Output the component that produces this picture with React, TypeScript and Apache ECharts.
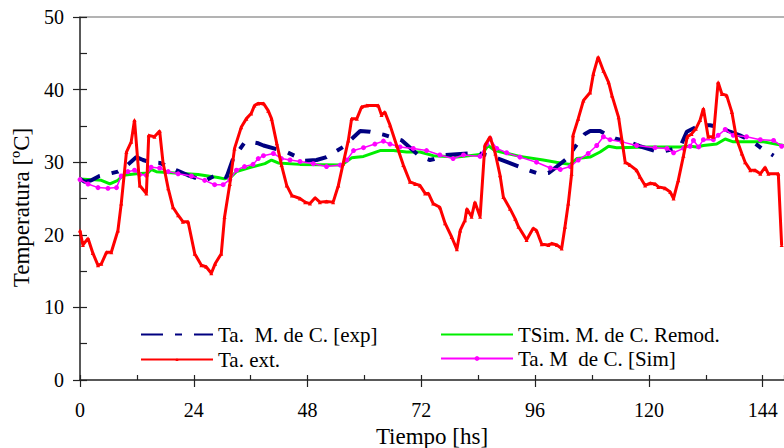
import React, { useEffect, useRef } from "react";
import * as echarts from "echarts";

const xTicks = [0, 24, 48, 72, 96, 120, 144];
const yTicks = [0, 10, 20, 30, 40, 50];

const expHours = [0, 1.0, 2.4, 4.1, 8.0, 9.1, 11.9, 13.3, 14.7, 16.8, 20.3, 22.8, 24.9, 26.3, 29.1, 30.9, 32.3, 34.7, 35.9, 37.6, 38.7, 43.6, 47.5, 49.9, 52.0, 55.5, 59.1, 61.2, 64.0, 67.9, 71.7, 73.8, 74.5, 77.0, 83.7, 85.8, 88.2, 92.5, 96.7, 98.8, 100.6, 102.7, 104.4, 106.5, 107.6, 109.7, 111.1, 113.2, 115.3, 118.1, 122.0, 124.5, 126.6, 128.0, 130.8, 132.9, 135.0, 137.1, 139.2, 142.0, 143.8, 146.3];
const expTemps = [27.7, 27.3, 27.5, 28.1, 28.7, 29.1, 30.7, 30.3, 30.0, 29.9, 28.9, 28.2, 27.7, 27.4, 28.4, 27.9, 30.5, 32.7, 32.8, 32.6, 32.3, 31.4, 30.2, 30.3, 30.7, 32.1, 34.3, 34.2, 33.8, 33.0, 30.8, 30.3, 30.4, 31.0, 31.3, 31.0, 30.5, 29.4, 28.4, 28.5, 29.4, 30.5, 32.1, 33.9, 34.3, 34.3, 33.8, 33.2, 32.9, 32.2, 31.4, 31.7, 32.1, 34.2, 35.1, 35.1, 34.8, 34.2, 33.7, 32.8, 31.9, 30.9];

const remodHours = [0, 2.4, 4.5, 6.3, 8.0, 9.1, 11.9, 14.3, 15.0, 16.1, 20.0, 24.9, 29.1, 30.5, 31.9, 33.0, 36.0, 39.0, 40.4, 41.8, 46.4, 55.2, 57.3, 59.8, 63.3, 66.1, 68.9, 71.7, 74.5, 79.5, 84.8, 86.1, 87.5, 92.8, 97.7, 101.3, 103.4, 104.8, 107.6, 109.7, 111.5, 113.2, 120.3, 126.6, 128.7, 130.1, 131.5, 134.3, 136.1, 137.8, 144.2, 148.4];
const remodTemps = [27.7, 27.6, 27.5, 27.0, 27.5, 28.2, 28.4, 28.5, 29.0, 28.7, 28.5, 28.3, 27.9, 27.7, 28.0, 28.7, 29.3, 29.8, 30.3, 29.9, 29.7, 29.6, 30.6, 30.8, 31.6, 31.6, 31.4, 31.4, 30.9, 30.7, 31.1, 32.3, 31.6, 30.8, 30.3, 29.9, 29.7, 30.5, 30.7, 31.4, 32.2, 32.0, 32.1, 32.1, 32.2, 32.1, 32.3, 32.5, 33.2, 32.8, 32.8, 32.3];

const extHours = [0, 0.6, 1.7, 2.7, 3.8, 4.5, 5.6, 6.6, 8.0, 8.7, 9.8, 10.8, 11.5, 12.6, 14.0, 14.5, 15.7, 16.8, 17.5, 18.6, 19.6, 20.7, 21.7, 22.8, 24.2, 25.6, 26.6, 27.7, 28.5, 29.8, 30.5, 31.6, 32.6, 34.0, 35.1, 36.1, 36.8, 37.6, 38.7, 39.7, 40.4, 41.5, 42.5, 43.6, 44.7, 46.4, 47.5, 48.5, 49.6, 50.6, 52.0, 53.4, 54.5, 55.5, 56.6, 57.3, 58.4, 59.4, 60.5, 62.9, 63.6, 64.3, 65.4, 66.8, 68.2, 69.6, 70.7, 71.7, 72.8, 73.5, 74.5, 75.9, 77.0, 78.4, 79.5, 80.2, 81.2, 81.6, 82.6, 83.3, 84.4, 85.4, 86.5, 87.6, 88.6, 89.3, 90.7, 91.8, 92.5, 94.2, 95.6, 96.3, 97.4, 98.8, 99.5, 100.6, 101.6, 102.3, 103.0, 103.7, 104.0, 105.1, 106.2, 107.6, 108.3, 109.3, 110.4, 111.5, 112.2, 113.6, 115.0, 116.0, 117.4, 118.1, 119.2, 120.3, 121.3, 122.0, 123.4, 124.5, 125.2, 126.2, 127.3, 128.1, 129.0, 129.9, 130.8, 131.5, 132.5, 133.6, 134.6, 135.4, 136.4, 137.5, 138.5, 139.6, 140.3, 141.4, 142.4, 143.5, 144.5, 145.2, 147.3, 148.0];
const extTemps = [20.6, 18.6, 19.5, 17.5, 15.8, 16.0, 17.6, 17.6, 20.6, 24.3, 31.4, 32.8, 35.8, 26.8, 25.7, 33.7, 33.5, 34.3, 30.0, 26.4, 23.8, 22.7, 21.8, 21.8, 17.4, 15.8, 15.6, 14.7, 16.0, 17.4, 22.5, 27.0, 31.9, 34.8, 36.0, 36.7, 37.8, 38.1, 38.1, 37.1, 36.0, 32.6, 29.6, 26.8, 25.4, 25.0, 24.5, 24.3, 25.1, 24.5, 24.6, 24.5, 26.8, 29.8, 33.0, 36.0, 36.0, 37.6, 37.8, 37.8, 36.5, 36.9, 35.1, 32.3, 29.6, 27.3, 27.0, 26.8, 25.7, 25.7, 24.3, 23.8, 21.6, 19.7, 18.0, 20.6, 22.0, 23.6, 22.5, 24.5, 22.5, 32.3, 33.5, 31.2, 28.2, 25.2, 23.6, 22.2, 21.1, 19.3, 20.9, 20.6, 18.7, 18.6, 18.8, 18.6, 18.1, 21.1, 24.3, 28.4, 33.7, 36.0, 38.5, 39.6, 42.2, 44.5, 42.6, 41.0, 39.2, 36.2, 30.0, 29.6, 28.9, 28.0, 26.8, 27.1, 27.0, 26.6, 26.4, 25.9, 25.0, 27.5, 30.9, 33.5, 33.9, 34.6, 35.8, 37.4, 33.5, 33.5, 41.0, 39.4, 39.2, 36.9, 33.2, 31.2, 30.0, 28.9, 28.9, 28.4, 29.3, 28.4, 28.4, 18.6];

const simHours = [0, 1.7, 3.8, 5.9, 7.7, 8.7, 10.1, 11.5, 12.6, 14.0, 15.0, 16.8, 18.6, 20.7, 23.5, 26.3, 28.4, 30.2, 31.6, 33.0, 34.7, 36.5, 37.6, 38.7, 40.8, 42.5, 44.3, 46.4, 49.2, 52.0, 54.9, 56.3, 57.7, 59.8, 62.2, 64.0, 65.4, 67.5, 70.3, 73.1, 75.9, 78.7, 80.9, 84.4, 85.8, 86.5, 87.9, 90.0, 92.8, 96.3, 99.2, 101.3, 103.4, 105.1, 107.2, 109.0, 110.4, 111.8, 114.3, 117.4, 121.3, 123.8, 125.2, 127.3, 128.7, 129.4, 130.5, 131.5, 133.6, 134.6, 136.1, 137.8, 140.6, 143.5, 146.3, 148.0];
const simTemps = [27.6, 27.0, 26.5, 26.4, 26.5, 28.1, 28.7, 28.9, 28.3, 28.2, 29.3, 29.2, 28.7, 28.4, 28.1, 27.5, 26.9, 26.9, 27.6, 28.9, 29.4, 29.7, 30.5, 30.9, 31.2, 30.5, 30.3, 30.1, 29.8, 29.4, 29.6, 30.3, 31.6, 32.0, 32.5, 32.9, 32.5, 32.1, 31.9, 31.6, 31.0, 30.5, 31.0, 30.8, 32.5, 33.2, 31.9, 31.3, 30.7, 30.0, 29.2, 29.0, 29.4, 30.3, 31.2, 32.3, 33.5, 33.1, 32.8, 32.3, 32.0, 31.9, 31.3, 31.9, 32.2, 33.0, 32.1, 33.1, 33.1, 33.7, 34.5, 33.7, 33.5, 33.1, 33.0, 32.2];

const names = ["Ta.  M. de C. [exp]", "TSim. M. de C. Remod.", "Ta. ext.", "Ta. M  de C. [Sim]"];

const zip = (xs: number[], ys: number[]) => xs.map((x, i) => [x, ys[i]]);

const FONT = "'Liberation Serif', 'Times New Roman', serif";
const X_MAX = 148.5;

export default function App() {
  const ref = useRef<HTMLDivElement>(null);
  useEffect(() => {
    if (!ref.current) return;
    const chart = echarts.init(ref.current, undefined, { renderer: "svg" });
    const axisColor = "#222";
    const legendText = { fontFamily: FONT, fontSize: 21, color: "#000" };
    const mkLegend = (name: string, left: number, centerY: number, h: number, hideSymbol: boolean) => ({
      show: true,
      data: [name],
      left,
      top: centerY - h / 2,
      orient: "horizontal",
      itemWidth: 72,
      itemHeight: h,
      itemGap: 4,
      padding: 0,
      selectedMode: false,
      textStyle: legendText,
      itemStyle: hideSymbol ? { opacity: 0 } : {},
    });
    chart.setOption({
      animation: false,
      backgroundColor: "#fff",
      grid: { left: 80, right: 0, top: 17, bottom: 68, containLabel: false, outerBoundsMode: "none" },
      legend: [
        mkLegend(names[0], 140, 330, 12, true),
        mkLegend(names[1], 440, 330, 12, true),
        mkLegend(names[2], 140, 351, 4, false),
        mkLegend(names[3], 440, 351, 6, false),
      ],
      xAxis: [
        {
          type: "value",
          min: 0,
          max: X_MAX,
          interval: 24,
          position: "bottom",
          name: "Tiempo [hs]",
          nameLocation: "middle",
          nameGap: 45,
          nameTextStyle: { fontFamily: FONT, fontSize: 23, color: "#000" },
          axisLine: { show: true, onZero: false, lineStyle: { color: axisColor, width: 1.5 } },
          axisTick: { show: true, inside: false, length: 7, lineStyle: { color: axisColor, width: 1.2 } },
          axisLabel: {
            fontFamily: FONT,
            fontSize: 20,
            color: "#000",
            margin: 20,
            showMaxLabel: false,
            formatter: (v: number) => (xTicks.includes(v) ? String(v) : ""),
          },
          splitLine: { show: false },
        },
        {
          type: "value",
          min: 0,
          max: X_MAX,
          interval: 24,
          position: "bottom",
          axisLine: { show: false, onZero: false },
          axisTick: { show: true, inside: true, length: 5, lineStyle: { color: axisColor, width: 1.2 } },
          minorTick: { show: true, splitNumber: 2, length: 5, lineStyle: { color: axisColor, width: 1.2 } },
          axisLabel: { show: false },
          splitLine: { show: false },
        },
        {
          type: "value",
          min: 0,
          max: X_MAX,
          position: "top",
          axisLine: { show: true, onZero: false, lineStyle: { color: "#9a9a9a", width: 1.5 } },
          axisTick: { show: false },
          axisLabel: { show: false },
          splitLine: { show: false },
        },
      ],
      yAxis: [
        {
          type: "value",
          min: 0,
          max: 50,
          interval: 10,
          position: "left",
          name: "Temperatura [ºC]",
          nameLocation: "middle",
          nameGap: 47,
          nameRotate: 90,
          nameTextStyle: { fontFamily: FONT, fontSize: 23, color: "#000", padding: [0, 18, 0, 0] },
          axisLine: { show: true, onZero: false, lineStyle: { color: axisColor, width: 1.5 } },
          axisTick: { show: true, inside: false, length: 7, lineStyle: { color: axisColor, width: 1.2 } },
          axisLabel: {
            fontFamily: FONT,
            fontSize: 20,
            color: "#000",
            margin: 16,
            formatter: (v: number) => (yTicks.includes(v) ? String(v) : ""),
          },
          splitLine: { show: false },
        },
        {
          type: "value",
          min: 0,
          max: 50,
          interval: 10,
          position: "left",
          axisLine: { show: false, onZero: false },
          axisTick: { show: true, inside: true, length: 7, lineStyle: { color: axisColor, width: 1.2 } },
          minorTick: { show: true, splitNumber: 2, length: 7, lineStyle: { color: axisColor, width: 1.2 } },
          axisLabel: { show: false },
          splitLine: { show: false },
        },
      ],
      series: [
        {
          name: names[1],
          type: "line",
          data: zip(remodHours, remodTemps),
          showSymbol: false,
          symbol: "none",
          lineStyle: { color: "#00ee00", width: 3 },
          itemStyle: { color: "#00ee00" },
          z: 2,
        },
        {
          name: names[0],
          type: "line",
          data: zip(expHours, expTemps),
          showSymbol: false,
          symbol: "none",
          lineStyle: { color: "#000080", width: 4, type: [22, 12, 7, 12] },
          itemStyle: { color: "#000080" },
          z: 3,
        },
        {
          name: names[3],
          type: "line",
          data: zip(simHours, simTemps),
          symbol: "circle",
          symbolSize: 5,
          showSymbol: true,
          lineStyle: { color: "#ff00ff", width: 1.5 },
          itemStyle: { color: "#ff00ff" },
          z: 4,
        },
        {
          name: names[2],
          type: "line",
          data: zip(extHours, extTemps),
          symbol: "triangle",
          symbolSize: 4,
          showSymbol: true,
          lineStyle: { color: "#ff0000", width: 3 },
          itemStyle: { color: "#ff0000" },
          z: 5,
        },
      ],
    });
    return () => chart.dispose();
  }, []);
  return <div ref={ref} style={{ width: 784, height: 448, position: "absolute", left: 0, top: 0 }} />;
}
